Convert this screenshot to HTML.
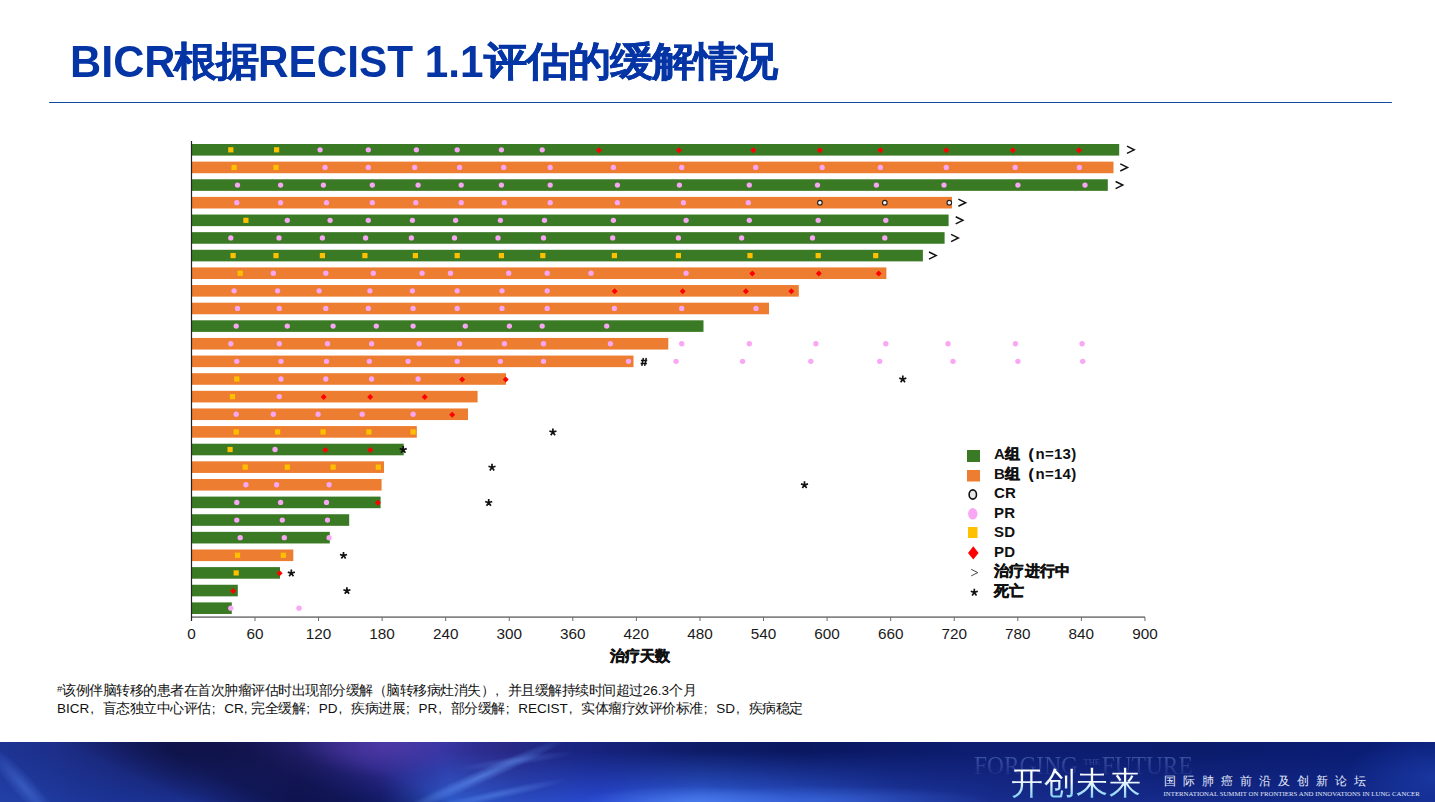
<!DOCTYPE html>
<html><head><meta charset="utf-8">
<style>
html,body{margin:0;padding:0;}
body{width:1435px;height:802px;position:relative;overflow:hidden;background:#fff;font-family:"Liberation Sans",sans-serif;}
.abs{position:absolute;white-space:nowrap;}
.tl{font-size:43.6px;font-weight:bold;color:#0535A5;line-height:50px;transform-origin:0 0;}
.tc{font-size:40px;font-weight:bold;color:#0535A5;line-height:46px;transform-origin:0 0;transform:scaleX(1.08);letter-spacing:-1.1px;-webkit-text-stroke:0.45px #0535A5;}
#hr{left:48.5px;top:101.75px;width:1343px;height:1.5px;background:#0E4C9E;border-radius:1px;}
svg text{font-family:"Liberation Sans",sans-serif;}
.lg{position:absolute;left:994px;font-size:15px;font-weight:bold;color:#111;line-height:19px;letter-spacing:0.25px;}
.lt{letter-spacing:0;}
.fp{display:inline-block;width:13.5px;font-style:normal;letter-spacing:0;text-indent:1px;}
.lc{-webkit-text-stroke:0.45px #111;}
.note{left:57px;font-size:13.5px;color:#111;line-height:18px;letter-spacing:-0.5px;}
#banner{left:0;top:742px;width:1435px;height:60px;overflow:hidden;
background:
 radial-gradient(ellipse 180px 30px at 1070px 60px, rgba(90,150,255,0.55), rgba(90,150,255,0) 100%),
 radial-gradient(ellipse 260px 25px at 520px 45px, rgba(110,160,255,0.45), rgba(110,160,255,0) 100%),
 radial-gradient(ellipse 260px 60px at 420px 0px, rgba(110,60,180,0.7), rgba(110,60,180,0) 100%),
 radial-gradient(ellipse 120px 50px at 10px 60px, rgba(60,110,220,0.6), rgba(60,110,220,0) 100%),
 linear-gradient(90deg,#1C3590 0%,#182870 15%,#141A5A 25%,#1E1E6E 35%,#2A2A8A 45%,#1E3EAA 55%,#0E1E70 65%,#0A1C6A 75%,#0C1F78 90%,#0E2480 100%);}
</style></head><body>
<div class="abs tl" style="left:70px;top:36.5px;transform:scaleX(0.99)">BICR</div>
<div class="abs tc" style="left:174px;top:38px">根据</div>
<div class="abs tl" style="left:257.5px;top:36.5px;transform:scaleX(0.97)">RECIST 1.1</div>
<div class="abs tc" style="left:483.5px;top:38px;letter-spacing:-1.2px">评估的缓解情况</div>
<div id="hr" class="abs"></div>
<svg class="abs" style="left:0;top:0" width="1435" height="700" viewBox="0 0 1435 700">
<rect x="191.5" y="144.00" width="927.70" height="11.6" fill="#3B7A25"/>
<rect x="191.5" y="161.63" width="922.00" height="11.6" fill="#ED7D31"/>
<rect x="191.5" y="179.26" width="916.30" height="11.6" fill="#3B7A25"/>
<rect x="191.5" y="196.89" width="760.50" height="11.6" fill="#ED7D31"/>
<rect x="191.5" y="214.52" width="757.10" height="11.6" fill="#3B7A25"/>
<rect x="191.5" y="232.15" width="753.10" height="11.6" fill="#3B7A25"/>
<rect x="191.5" y="249.78" width="731.40" height="11.6" fill="#3B7A25"/>
<rect x="191.5" y="267.41" width="694.90" height="11.6" fill="#ED7D31"/>
<rect x="191.5" y="285.04" width="607.30" height="11.6" fill="#ED7D31"/>
<rect x="191.5" y="302.67" width="577.50" height="11.6" fill="#ED7D31"/>
<rect x="191.5" y="320.30" width="512.00" height="11.6" fill="#3B7A25"/>
<rect x="191.5" y="337.93" width="476.80" height="11.6" fill="#ED7D31"/>
<rect x="191.5" y="355.56" width="442.00" height="11.6" fill="#ED7D31"/>
<rect x="191.5" y="373.19" width="314.50" height="11.6" fill="#ED7D31"/>
<rect x="191.5" y="390.82" width="286.10" height="11.6" fill="#ED7D31"/>
<rect x="191.5" y="408.45" width="276.50" height="11.6" fill="#ED7D31"/>
<rect x="191.5" y="426.08" width="225.30" height="11.6" fill="#ED7D31"/>
<rect x="191.5" y="443.71" width="212.20" height="11.6" fill="#3B7A25"/>
<rect x="191.5" y="461.34" width="192.50" height="11.6" fill="#ED7D31"/>
<rect x="191.5" y="478.97" width="190.10" height="11.6" fill="#ED7D31"/>
<rect x="191.5" y="496.60" width="189.10" height="11.6" fill="#3B7A25"/>
<rect x="191.5" y="514.23" width="157.70" height="11.6" fill="#3B7A25"/>
<rect x="191.5" y="531.86" width="138.30" height="11.6" fill="#3B7A25"/>
<rect x="191.5" y="549.49" width="101.80" height="11.6" fill="#ED7D31"/>
<rect x="191.5" y="567.12" width="88.50" height="11.6" fill="#3B7A25"/>
<rect x="191.5" y="584.75" width="46.30" height="11.6" fill="#3B7A25"/>
<rect x="191.5" y="602.38" width="40.30" height="11.6" fill="#3B7A25"/>
<rect x="228.20" y="147.20" width="5.2" height="5.2" fill="#FFC000"/>
<rect x="274.00" y="147.20" width="5.2" height="5.2" fill="#FFC000"/>
<circle cx="320.1" cy="149.80" r="2.65" fill="#F9A6F4"/>
<circle cx="368.3" cy="149.80" r="2.65" fill="#F9A6F4"/>
<circle cx="416.4" cy="149.80" r="2.65" fill="#F9A6F4"/>
<circle cx="457.2" cy="149.80" r="2.65" fill="#F9A6F4"/>
<circle cx="501.4" cy="149.80" r="2.65" fill="#F9A6F4"/>
<circle cx="542.2" cy="149.80" r="2.65" fill="#F9A6F4"/>
<path d="M599.00 147.20L602.00 150.20L599.00 153.20L596.00 150.20Z" fill="#FF0000"/>
<path d="M679.00 147.20L682.00 150.20L679.00 153.20L676.00 150.20Z" fill="#FF0000"/>
<path d="M753.30 147.20L756.30 150.20L753.30 153.20L750.30 150.20Z" fill="#FF0000"/>
<path d="M819.80 147.20L822.80 150.20L819.80 153.20L816.80 150.20Z" fill="#FF0000"/>
<path d="M880.40 147.20L883.40 150.20L880.40 153.20L877.40 150.20Z" fill="#FF0000"/>
<path d="M946.30 147.20L949.30 150.20L946.30 153.20L943.30 150.20Z" fill="#FF0000"/>
<path d="M1012.80 147.20L1015.80 150.20L1012.80 153.20L1009.80 150.20Z" fill="#FF0000"/>
<path d="M1079.00 147.20L1082.00 150.20L1079.00 153.20L1076.00 150.20Z" fill="#FF0000"/>
<path d="M1127.00 146.20L1134.20 149.80L1127.00 153.40" fill="none" stroke="#111" stroke-width="1.5"/>
<rect x="231.50" y="164.83" width="5.2" height="5.2" fill="#FFC000"/>
<rect x="273.40" y="164.83" width="5.2" height="5.2" fill="#FFC000"/>
<circle cx="325.1" cy="167.43" r="2.65" fill="#F9A6F4"/>
<circle cx="368.3" cy="167.43" r="2.65" fill="#F9A6F4"/>
<circle cx="414.7" cy="167.43" r="2.65" fill="#F9A6F4"/>
<circle cx="459.6" cy="167.43" r="2.65" fill="#F9A6F4"/>
<circle cx="503.7" cy="167.43" r="2.65" fill="#F9A6F4"/>
<circle cx="550.2" cy="167.43" r="2.65" fill="#F9A6F4"/>
<circle cx="613.4" cy="167.43" r="2.65" fill="#F9A6F4"/>
<circle cx="681.7" cy="167.43" r="2.65" fill="#F9A6F4"/>
<circle cx="755.7" cy="167.43" r="2.65" fill="#F9A6F4"/>
<circle cx="822.2" cy="167.43" r="2.65" fill="#F9A6F4"/>
<circle cx="880.4" cy="167.43" r="2.65" fill="#F9A6F4"/>
<circle cx="946.3" cy="167.43" r="2.65" fill="#F9A6F4"/>
<circle cx="1015.2" cy="167.43" r="2.65" fill="#F9A6F4"/>
<circle cx="1079.4" cy="167.43" r="2.65" fill="#F9A6F4"/>
<path d="M1120.30 163.83L1127.50 167.43L1120.30 171.03" fill="none" stroke="#111" stroke-width="1.5"/>
<circle cx="237.5" cy="185.06" r="2.65" fill="#F9A6F4"/>
<circle cx="280.6" cy="185.06" r="2.65" fill="#F9A6F4"/>
<circle cx="323.4" cy="185.06" r="2.65" fill="#F9A6F4"/>
<circle cx="372.3" cy="185.06" r="2.65" fill="#F9A6F4"/>
<circle cx="418.1" cy="185.06" r="2.65" fill="#F9A6F4"/>
<circle cx="461.2" cy="185.06" r="2.65" fill="#F9A6F4"/>
<circle cx="501.4" cy="185.06" r="2.65" fill="#F9A6F4"/>
<circle cx="550.2" cy="185.06" r="2.65" fill="#F9A6F4"/>
<circle cx="617.4" cy="185.06" r="2.65" fill="#F9A6F4"/>
<circle cx="679.4" cy="185.06" r="2.65" fill="#F9A6F4"/>
<circle cx="749.3" cy="185.06" r="2.65" fill="#F9A6F4"/>
<circle cx="817.5" cy="185.06" r="2.65" fill="#F9A6F4"/>
<circle cx="876.4" cy="185.06" r="2.65" fill="#F9A6F4"/>
<circle cx="944" cy="185.06" r="2.65" fill="#F9A6F4"/>
<circle cx="1017.9" cy="185.06" r="2.65" fill="#F9A6F4"/>
<circle cx="1085" cy="185.06" r="2.65" fill="#F9A6F4"/>
<path d="M1115.60 181.46L1122.80 185.06L1115.60 188.66" fill="none" stroke="#111" stroke-width="1.5"/>
<circle cx="236.8" cy="202.69" r="2.65" fill="#F9A6F4"/>
<circle cx="280.6" cy="202.69" r="2.65" fill="#F9A6F4"/>
<circle cx="326.5" cy="202.69" r="2.65" fill="#F9A6F4"/>
<circle cx="372.3" cy="202.69" r="2.65" fill="#F9A6F4"/>
<circle cx="415.8" cy="202.69" r="2.65" fill="#F9A6F4"/>
<circle cx="461.2" cy="202.69" r="2.65" fill="#F9A6F4"/>
<circle cx="504.4" cy="202.69" r="2.65" fill="#F9A6F4"/>
<circle cx="550.2" cy="202.69" r="2.65" fill="#F9A6F4"/>
<circle cx="617.4" cy="202.69" r="2.65" fill="#F9A6F4"/>
<circle cx="683.4" cy="202.69" r="2.65" fill="#F9A6F4"/>
<circle cx="748.3" cy="202.69" r="2.65" fill="#F9A6F4"/>
<circle cx="819.9" cy="202.69" r="2.3" fill="#f4f4f4" stroke="#222" stroke-width="1.1"/>
<circle cx="884.8" cy="202.69" r="2.3" fill="#f4f4f4" stroke="#222" stroke-width="1.1"/>
<circle cx="949.3" cy="202.69" r="2.3" fill="#f4f4f4" stroke="#222" stroke-width="1.1"/>
<path d="M958.40 199.09L965.60 202.69L958.40 206.29" fill="none" stroke="#111" stroke-width="1.5"/>
<rect x="243.30" y="217.72" width="5.2" height="5.2" fill="#FFC000"/>
<circle cx="287.3" cy="220.32" r="2.65" fill="#F9A6F4"/>
<circle cx="330.1" cy="220.32" r="2.65" fill="#F9A6F4"/>
<circle cx="368.3" cy="220.32" r="2.65" fill="#F9A6F4"/>
<circle cx="412.4" cy="220.32" r="2.65" fill="#F9A6F4"/>
<circle cx="455.6" cy="220.32" r="2.65" fill="#F9A6F4"/>
<circle cx="500.4" cy="220.32" r="2.65" fill="#F9A6F4"/>
<circle cx="544.5" cy="220.32" r="2.65" fill="#F9A6F4"/>
<circle cx="613.4" cy="220.32" r="2.65" fill="#F9A6F4"/>
<circle cx="686.1" cy="220.32" r="2.65" fill="#F9A6F4"/>
<circle cx="749.3" cy="220.32" r="2.65" fill="#F9A6F4"/>
<circle cx="818.2" cy="220.32" r="2.65" fill="#F9A6F4"/>
<circle cx="885.8" cy="220.32" r="2.65" fill="#F9A6F4"/>
<path d="M955.70 216.72L962.90 220.32L955.70 223.92" fill="none" stroke="#111" stroke-width="1.5"/>
<circle cx="230.8" cy="237.95" r="2.65" fill="#F9A6F4"/>
<circle cx="279" cy="237.95" r="2.65" fill="#F9A6F4"/>
<circle cx="322.4" cy="237.95" r="2.65" fill="#F9A6F4"/>
<circle cx="365.6" cy="237.95" r="2.65" fill="#F9A6F4"/>
<circle cx="411.4" cy="237.95" r="2.65" fill="#F9A6F4"/>
<circle cx="454.5" cy="237.95" r="2.65" fill="#F9A6F4"/>
<circle cx="498" cy="237.95" r="2.65" fill="#F9A6F4"/>
<circle cx="543.5" cy="237.95" r="2.65" fill="#F9A6F4"/>
<circle cx="612.7" cy="237.95" r="2.65" fill="#F9A6F4"/>
<circle cx="678.4" cy="237.95" r="2.65" fill="#F9A6F4"/>
<circle cx="741.6" cy="237.95" r="2.65" fill="#F9A6F4"/>
<circle cx="812.5" cy="237.95" r="2.65" fill="#F9A6F4"/>
<circle cx="884.8" cy="237.95" r="2.65" fill="#F9A6F4"/>
<path d="M951.10 234.35L958.30 237.95L951.10 241.55" fill="none" stroke="#111" stroke-width="1.5"/>
<rect x="230.50" y="252.98" width="5.2" height="5.2" fill="#FFC000"/>
<rect x="273.40" y="252.98" width="5.2" height="5.2" fill="#FFC000"/>
<rect x="319.80" y="252.98" width="5.2" height="5.2" fill="#FFC000"/>
<rect x="362.30" y="252.98" width="5.2" height="5.2" fill="#FFC000"/>
<rect x="412.80" y="252.98" width="5.2" height="5.2" fill="#FFC000"/>
<rect x="454.60" y="252.98" width="5.2" height="5.2" fill="#FFC000"/>
<rect x="498.80" y="252.98" width="5.2" height="5.2" fill="#FFC000"/>
<rect x="540.20" y="252.98" width="5.2" height="5.2" fill="#FFC000"/>
<rect x="611.80" y="252.98" width="5.2" height="5.2" fill="#FFC000"/>
<rect x="675.80" y="252.98" width="5.2" height="5.2" fill="#FFC000"/>
<rect x="747.40" y="252.98" width="5.2" height="5.2" fill="#FFC000"/>
<rect x="815.60" y="252.98" width="5.2" height="5.2" fill="#FFC000"/>
<rect x="873.10" y="252.98" width="5.2" height="5.2" fill="#FFC000"/>
<path d="M929.00 251.98L936.20 255.58L929.00 259.18" fill="none" stroke="#111" stroke-width="1.5"/>
<rect x="237.60" y="270.61" width="5.2" height="5.2" fill="#FFC000"/>
<circle cx="273.3" cy="273.21" r="2.65" fill="#F9A6F4"/>
<circle cx="325.8" cy="273.21" r="2.65" fill="#F9A6F4"/>
<circle cx="373.3" cy="273.21" r="2.65" fill="#F9A6F4"/>
<circle cx="422.1" cy="273.21" r="2.65" fill="#F9A6F4"/>
<circle cx="450.5" cy="273.21" r="2.65" fill="#F9A6F4"/>
<circle cx="508.7" cy="273.21" r="2.65" fill="#F9A6F4"/>
<circle cx="547.2" cy="273.21" r="2.65" fill="#F9A6F4"/>
<circle cx="591" cy="273.21" r="2.65" fill="#F9A6F4"/>
<circle cx="686.1" cy="273.21" r="2.65" fill="#F9A6F4"/>
<path d="M752.30 270.61L755.30 273.61L752.30 276.61L749.30 273.61Z" fill="#FF0000"/>
<path d="M818.80 270.61L821.80 273.61L818.80 276.61L815.80 273.61Z" fill="#FF0000"/>
<path d="M878.70 270.61L881.70 273.61L878.70 276.61L875.70 273.61Z" fill="#FF0000"/>
<circle cx="234.1" cy="290.84" r="2.65" fill="#F9A6F4"/>
<circle cx="277.6" cy="290.84" r="2.65" fill="#F9A6F4"/>
<circle cx="319.1" cy="290.84" r="2.65" fill="#F9A6F4"/>
<circle cx="369.9" cy="290.84" r="2.65" fill="#F9A6F4"/>
<circle cx="412.4" cy="290.84" r="2.65" fill="#F9A6F4"/>
<circle cx="457.2" cy="290.84" r="2.65" fill="#F9A6F4"/>
<circle cx="502" cy="290.84" r="2.65" fill="#F9A6F4"/>
<circle cx="547.2" cy="290.84" r="2.65" fill="#F9A6F4"/>
<path d="M614.70 288.24L617.70 291.24L614.70 294.24L611.70 291.24Z" fill="#FF0000"/>
<path d="M682.70 288.24L685.70 291.24L682.70 294.24L679.70 291.24Z" fill="#FF0000"/>
<path d="M745.90 288.24L748.90 291.24L745.90 294.24L742.90 291.24Z" fill="#FF0000"/>
<path d="M791.40 288.24L794.40 291.24L791.40 294.24L788.40 291.24Z" fill="#FF0000"/>
<circle cx="237.5" cy="308.47" r="2.65" fill="#F9A6F4"/>
<circle cx="279.3" cy="308.47" r="2.65" fill="#F9A6F4"/>
<circle cx="325.8" cy="308.47" r="2.65" fill="#F9A6F4"/>
<circle cx="368.3" cy="308.47" r="2.65" fill="#F9A6F4"/>
<circle cx="413.1" cy="308.47" r="2.65" fill="#F9A6F4"/>
<circle cx="457.2" cy="308.47" r="2.65" fill="#F9A6F4"/>
<circle cx="502" cy="308.47" r="2.65" fill="#F9A6F4"/>
<circle cx="547.2" cy="308.47" r="2.65" fill="#F9A6F4"/>
<circle cx="614.4" cy="308.47" r="2.65" fill="#F9A6F4"/>
<circle cx="681.7" cy="308.47" r="2.65" fill="#F9A6F4"/>
<circle cx="756" cy="308.47" r="2.65" fill="#F9A6F4"/>
<circle cx="236.2" cy="326.10" r="2.65" fill="#F9A6F4"/>
<circle cx="287.3" cy="326.10" r="2.65" fill="#F9A6F4"/>
<circle cx="333.1" cy="326.10" r="2.65" fill="#F9A6F4"/>
<circle cx="376.3" cy="326.10" r="2.65" fill="#F9A6F4"/>
<circle cx="413.1" cy="326.10" r="2.65" fill="#F9A6F4"/>
<circle cx="465.3" cy="326.10" r="2.65" fill="#F9A6F4"/>
<circle cx="509.4" cy="326.10" r="2.65" fill="#F9A6F4"/>
<circle cx="542.2" cy="326.10" r="2.65" fill="#F9A6F4"/>
<circle cx="606.7" cy="326.10" r="2.65" fill="#F9A6F4"/>
<circle cx="230.8" cy="343.73" r="2.65" fill="#F9A6F4"/>
<circle cx="279.3" cy="343.73" r="2.65" fill="#F9A6F4"/>
<circle cx="327.5" cy="343.73" r="2.65" fill="#F9A6F4"/>
<circle cx="371.6" cy="343.73" r="2.65" fill="#F9A6F4"/>
<circle cx="419.1" cy="343.73" r="2.65" fill="#F9A6F4"/>
<circle cx="459.6" cy="343.73" r="2.65" fill="#F9A6F4"/>
<circle cx="504.4" cy="343.73" r="2.65" fill="#F9A6F4"/>
<circle cx="543.5" cy="343.73" r="2.65" fill="#F9A6F4"/>
<circle cx="610.4" cy="343.73" r="2.65" fill="#F9A6F4"/>
<circle cx="681.7" cy="343.73" r="2.65" fill="#F9A6F4"/>
<circle cx="749.3" cy="343.73" r="2.65" fill="#F9A6F4"/>
<circle cx="815.9" cy="343.73" r="2.65" fill="#F9A6F4"/>
<circle cx="885.8" cy="343.73" r="2.65" fill="#F9A6F4"/>
<circle cx="948" cy="343.73" r="2.65" fill="#F9A6F4"/>
<circle cx="1015.5" cy="343.73" r="2.65" fill="#F9A6F4"/>
<circle cx="1082.1" cy="343.73" r="2.65" fill="#F9A6F4"/>
<circle cx="236.8" cy="361.36" r="2.65" fill="#F9A6F4"/>
<circle cx="281" cy="361.36" r="2.65" fill="#F9A6F4"/>
<circle cx="326.5" cy="361.36" r="2.65" fill="#F9A6F4"/>
<circle cx="369.3" cy="361.36" r="2.65" fill="#F9A6F4"/>
<circle cx="408.1" cy="361.36" r="2.65" fill="#F9A6F4"/>
<circle cx="457.2" cy="361.36" r="2.65" fill="#F9A6F4"/>
<circle cx="500.4" cy="361.36" r="2.65" fill="#F9A6F4"/>
<circle cx="543.5" cy="361.36" r="2.65" fill="#F9A6F4"/>
<circle cx="628.5" cy="361.36" r="2.65" fill="#F9A6F4"/>
<circle cx="676.1" cy="361.36" r="2.65" fill="#F9A6F4"/>
<circle cx="742.6" cy="361.36" r="2.65" fill="#F9A6F4"/>
<circle cx="810.8" cy="361.36" r="2.65" fill="#F9A6F4"/>
<circle cx="879.7" cy="361.36" r="2.65" fill="#F9A6F4"/>
<circle cx="953" cy="361.36" r="2.65" fill="#F9A6F4"/>
<circle cx="1017.9" cy="361.36" r="2.65" fill="#F9A6F4"/>
<circle cx="1082.7" cy="361.36" r="2.65" fill="#F9A6F4"/>
<path d="M643.4 358L641.8 365.8M646.3 358L644.7 365.8M640.9 360.5L647.2 360.5M640.6 363.4L646.9 363.4" stroke="#111" stroke-width="1.5" fill="none"/>
<rect x="234.20" y="376.39" width="5.2" height="5.2" fill="#FFC000"/>
<circle cx="281" cy="378.99" r="2.65" fill="#F9A6F4"/>
<circle cx="325.8" cy="378.99" r="2.65" fill="#F9A6F4"/>
<circle cx="371.6" cy="378.99" r="2.65" fill="#F9A6F4"/>
<circle cx="418.1" cy="378.99" r="2.65" fill="#F9A6F4"/>
<path d="M462.20 376.39L465.20 379.39L462.20 382.39L459.20 379.39Z" fill="#FF0000"/>
<path d="M505.70 376.39L508.70 379.39L505.70 382.39L502.70 379.39Z" fill="#FF0000"/>
<path d="M902.80 379.29L902.80 375.59M902.80 379.29L906.32 378.15M902.80 379.29L904.97 382.28M902.80 379.29L900.63 382.28M902.80 379.29L899.28 378.15" stroke="#111" stroke-width="1.7" stroke-linecap="butt"/>
<rect x="229.90" y="394.02" width="5.2" height="5.2" fill="#FFC000"/>
<circle cx="279.3" cy="396.62" r="2.65" fill="#F9A6F4"/>
<path d="M323.70 394.02L326.70 397.02L323.70 400.02L320.70 397.02Z" fill="#FF0000"/>
<path d="M370.20 394.02L373.20 397.02L370.20 400.02L367.20 397.02Z" fill="#FF0000"/>
<path d="M424.70 394.02L427.70 397.02L424.70 400.02L421.70 397.02Z" fill="#FF0000"/>
<circle cx="236.2" cy="414.25" r="2.65" fill="#F9A6F4"/>
<circle cx="273.3" cy="414.25" r="2.65" fill="#F9A6F4"/>
<circle cx="318.1" cy="414.25" r="2.65" fill="#F9A6F4"/>
<circle cx="362.2" cy="414.25" r="2.65" fill="#F9A6F4"/>
<circle cx="413.1" cy="414.25" r="2.65" fill="#F9A6F4"/>
<path d="M452.20 411.65L455.20 414.65L452.20 417.65L449.20 414.65Z" fill="#FF0000"/>
<rect x="233.60" y="429.28" width="5.2" height="5.2" fill="#FFC000"/>
<rect x="275.00" y="429.28" width="5.2" height="5.2" fill="#FFC000"/>
<rect x="320.50" y="429.28" width="5.2" height="5.2" fill="#FFC000"/>
<rect x="366.30" y="429.28" width="5.2" height="5.2" fill="#FFC000"/>
<rect x="410.50" y="429.28" width="5.2" height="5.2" fill="#FFC000"/>
<path d="M552.90 432.18L552.90 428.48M552.90 432.18L556.42 431.04M552.90 432.18L555.07 435.17M552.90 432.18L550.73 435.17M552.90 432.18L549.38 431.04" stroke="#111" stroke-width="1.7" stroke-linecap="butt"/>
<rect x="227.50" y="446.91" width="5.2" height="5.2" fill="#FFC000"/>
<circle cx="275" cy="449.51" r="2.65" fill="#F9A6F4"/>
<path d="M325.40 446.91L328.40 449.91L325.40 452.91L322.40 449.91Z" fill="#FF0000"/>
<path d="M370.20 446.91L373.20 449.91L370.20 452.91L367.20 449.91Z" fill="#FF0000"/>
<path d="M403.20 449.81L403.20 446.11M403.20 449.81L406.72 448.67M403.20 449.81L405.37 452.80M403.20 449.81L401.03 452.80M403.20 449.81L399.68 448.67" stroke="#111" stroke-width="1.7" stroke-linecap="butt"/>
<rect x="242.60" y="464.54" width="5.2" height="5.2" fill="#FFC000"/>
<rect x="284.70" y="464.54" width="5.2" height="5.2" fill="#FFC000"/>
<rect x="330.50" y="464.54" width="5.2" height="5.2" fill="#FFC000"/>
<rect x="375.70" y="464.54" width="5.2" height="5.2" fill="#FFC000"/>
<path d="M492.00 467.44L492.00 463.74M492.00 467.44L495.52 466.30M492.00 467.44L494.17 470.43M492.00 467.44L489.83 470.43M492.00 467.44L488.48 466.30" stroke="#111" stroke-width="1.7" stroke-linecap="butt"/>
<circle cx="245.9" cy="484.77" r="2.65" fill="#F9A6F4"/>
<circle cx="276.6" cy="484.77" r="2.65" fill="#F9A6F4"/>
<circle cx="329.1" cy="484.77" r="2.65" fill="#F9A6F4"/>
<path d="M804.50 485.07L804.50 481.37M804.50 485.07L808.02 483.93M804.50 485.07L806.67 488.06M804.50 485.07L802.33 488.06M804.50 485.07L800.98 483.93" stroke="#111" stroke-width="1.7" stroke-linecap="butt"/>
<circle cx="236.8" cy="502.40" r="2.65" fill="#F9A6F4"/>
<circle cx="280.6" cy="502.40" r="2.65" fill="#F9A6F4"/>
<circle cx="326.5" cy="502.40" r="2.65" fill="#F9A6F4"/>
<path d="M377.90 499.80L380.90 502.80L377.90 505.80L374.90 502.80Z" fill="#FF0000"/>
<path d="M488.70 502.70L488.70 499.00M488.70 502.70L492.22 501.56M488.70 502.70L490.87 505.69M488.70 502.70L486.53 505.69M488.70 502.70L485.18 501.56" stroke="#111" stroke-width="1.7" stroke-linecap="butt"/>
<circle cx="236.8" cy="520.03" r="2.65" fill="#F9A6F4"/>
<circle cx="282.3" cy="520.03" r="2.65" fill="#F9A6F4"/>
<circle cx="327.5" cy="520.03" r="2.65" fill="#F9A6F4"/>
<circle cx="240.2" cy="537.66" r="2.65" fill="#F9A6F4"/>
<circle cx="284.3" cy="537.66" r="2.65" fill="#F9A6F4"/>
<circle cx="329.1" cy="537.66" r="2.65" fill="#F9A6F4"/>
<rect x="234.90" y="552.69" width="5.2" height="5.2" fill="#FFC000"/>
<rect x="280.70" y="552.69" width="5.2" height="5.2" fill="#FFC000"/>
<path d="M343.50 555.59L343.50 551.89M343.50 555.59L347.02 554.45M343.50 555.59L345.67 558.58M343.50 555.59L341.33 558.58M343.50 555.59L339.98 554.45" stroke="#111" stroke-width="1.7" stroke-linecap="butt"/>
<rect x="233.60" y="570.32" width="5.2" height="5.2" fill="#FFC000"/>
<path d="M279.60 570.32L282.60 573.32L279.60 576.32L276.60 573.32Z" fill="#FF0000"/>
<path d="M291.30 573.22L291.30 569.52M291.30 573.22L294.82 572.08M291.30 573.22L293.47 576.21M291.30 573.22L289.13 576.21M291.30 573.22L287.78 572.08" stroke="#111" stroke-width="1.7" stroke-linecap="butt"/>
<path d="M233.10 587.95L236.10 590.95L233.10 593.95L230.10 590.95Z" fill="#FF0000"/>
<path d="M346.90 590.85L346.90 587.15M346.90 590.85L350.42 589.71M346.90 590.85L349.07 593.84M346.90 590.85L344.73 593.84M346.90 590.85L343.38 589.71" stroke="#111" stroke-width="1.7" stroke-linecap="butt"/>
<circle cx="230.8" cy="608.18" r="2.65" fill="#F9A6F4"/>
<circle cx="299" cy="608.18" r="2.65" fill="#F9A6F4"/>
<line x1="191" y1="617.1" x2="1145" y2="617.1" stroke="#858585" stroke-width="1.8"/>
<text x="191.40" y="639.2" font-size="15.3" text-anchor="middle" fill="#1a1a1a">0</text>
<line x1="254.97" y1="617" x2="254.97" y2="621" stroke="#6a6a6a" stroke-width="1"/>
<text x="254.97" y="639.2" font-size="15.3" text-anchor="middle" fill="#1a1a1a">60</text>
<line x1="318.54" y1="617" x2="318.54" y2="621" stroke="#6a6a6a" stroke-width="1"/>
<text x="318.54" y="639.2" font-size="15.3" text-anchor="middle" fill="#1a1a1a">120</text>
<line x1="382.11" y1="617" x2="382.11" y2="621" stroke="#6a6a6a" stroke-width="1"/>
<text x="382.11" y="639.2" font-size="15.3" text-anchor="middle" fill="#1a1a1a">180</text>
<line x1="445.68" y1="617" x2="445.68" y2="621" stroke="#6a6a6a" stroke-width="1"/>
<text x="445.68" y="639.2" font-size="15.3" text-anchor="middle" fill="#1a1a1a">240</text>
<line x1="509.25" y1="617" x2="509.25" y2="621" stroke="#6a6a6a" stroke-width="1"/>
<text x="509.25" y="639.2" font-size="15.3" text-anchor="middle" fill="#1a1a1a">300</text>
<line x1="572.82" y1="617" x2="572.82" y2="621" stroke="#6a6a6a" stroke-width="1"/>
<text x="572.82" y="639.2" font-size="15.3" text-anchor="middle" fill="#1a1a1a">360</text>
<line x1="636.39" y1="617" x2="636.39" y2="621" stroke="#6a6a6a" stroke-width="1"/>
<text x="636.39" y="639.2" font-size="15.3" text-anchor="middle" fill="#1a1a1a">420</text>
<line x1="699.96" y1="617" x2="699.96" y2="621" stroke="#6a6a6a" stroke-width="1"/>
<text x="699.96" y="639.2" font-size="15.3" text-anchor="middle" fill="#1a1a1a">480</text>
<line x1="763.53" y1="617" x2="763.53" y2="621" stroke="#6a6a6a" stroke-width="1"/>
<text x="763.53" y="639.2" font-size="15.3" text-anchor="middle" fill="#1a1a1a">540</text>
<line x1="827.10" y1="617" x2="827.10" y2="621" stroke="#6a6a6a" stroke-width="1"/>
<text x="827.10" y="639.2" font-size="15.3" text-anchor="middle" fill="#1a1a1a">600</text>
<line x1="890.67" y1="617" x2="890.67" y2="621" stroke="#6a6a6a" stroke-width="1"/>
<text x="890.67" y="639.2" font-size="15.3" text-anchor="middle" fill="#1a1a1a">660</text>
<line x1="954.24" y1="617" x2="954.24" y2="621" stroke="#6a6a6a" stroke-width="1"/>
<text x="954.24" y="639.2" font-size="15.3" text-anchor="middle" fill="#1a1a1a">720</text>
<line x1="1017.81" y1="617" x2="1017.81" y2="621" stroke="#6a6a6a" stroke-width="1"/>
<text x="1017.81" y="639.2" font-size="15.3" text-anchor="middle" fill="#1a1a1a">780</text>
<line x1="1081.38" y1="617" x2="1081.38" y2="621" stroke="#6a6a6a" stroke-width="1"/>
<text x="1081.38" y="639.2" font-size="15.3" text-anchor="middle" fill="#1a1a1a">840</text>
<line x1="1144.95" y1="617" x2="1144.95" y2="621" stroke="#6a6a6a" stroke-width="1"/>
<text x="1144.95" y="639.2" font-size="15.3" text-anchor="middle" fill="#1a1a1a">900</text>
<line x1="191.5" y1="141" x2="191.5" y2="621" stroke="#222" stroke-width="1.2"/>
<rect x="967" y="450" width="13" height="12" fill="#3B7A25"/>
<rect x="967" y="470" width="13" height="11.5" fill="#ED7D31"/>
<ellipse cx="972.8" cy="494.5" rx="3.7" ry="4.6" fill="#e8e8e8" stroke="#111" stroke-width="1.6"/>
<ellipse cx="972.8" cy="513.8" rx="4.7" ry="5.8" fill="#F9A6F4"/>
<rect x="968" y="527" width="9.5" height="11" fill="#FFC000"/>
<path d="M973.3 546.2L978.6 552.9L973.3 559.6L968 552.9Z" fill="#FF0000"/>
<path d="M971.2 569.3L977.8 572.6L971.2 575.9" fill="none" stroke="#333" stroke-width="0.9"/>
<path d="M974.30 592.40L974.30 588.70M974.30 592.40L977.82 591.26M974.30 592.40L976.47 595.39M974.30 592.40L972.13 595.39M974.30 592.40L970.78 591.26" stroke="#111" stroke-width="1.7" stroke-linecap="butt"/>
</svg>
<div class="lg" style="top:444px">A<span class="lc">组（</span>n=13)</div>
<div class="lg" style="top:464px">B<span class="lc">组（</span>n=14)</div>
<div class="lg" style="top:483px">CR</div>
<div class="lg" style="top:503px">PR</div>
<div class="lg" style="top:522px">SD</div>
<div class="lg" style="top:542px">PD</div>
<div class="lg lc" style="top:561px">治疗进行中</div>
<div class="lg lc" style="top:581px">死亡</div>
<div class="abs" style="left:609.5px;top:647px;font-size:15px;line-height:18px;font-weight:bold;color:#111;-webkit-text-stroke:0.5px #111">治疗天数</div>
<div class="abs note" style="top:680.4px"><span style="font-size:9.5px;vertical-align:3px;letter-spacing:0">#</span>该例伴脑转移的患者在首次肿瘤评估时出现部分缓解（脑转移病灶消失）<i class="fp">,</i>并且缓解持续时间超过<span class="lt">26.3</span>个月</div>
<div class="abs note" style="top:700px"><span class="lt">BICR</span><i class="fp">,</i>盲态独立中心评估<i class="fp">;</i><span class="lt">CR, </span>完全缓解<i class="fp">;</i><span class="lt">PD</span><i class="fp">,</i>疾病进展<i class="fp">;</i><span class="lt">PR</span><i class="fp">,</i>部分缓解<i class="fp">;</i><span class="lt">RECIST</span><i class="fp">,</i>实体瘤疗效评价标准<i class="fp">;</i><span class="lt">SD</span><i class="fp">,</i>疾病稳定</div>
<div id="banner" class="abs">
<svg class="abs" style="left:0;top:0" width="1435" height="60" viewBox="0 0 1435 60">
<defs>
<linearGradient id="gt" x1="0" y1="0" x2="1435" y2="0" gradientUnits="userSpaceOnUse">
<stop offset="0.0000" stop-color="#1E3494"/><stop offset="0.0418" stop-color="#1C2E88"/><stop offset="0.0767" stop-color="#1A2678"/>
<stop offset="0.1254" stop-color="#141958"/><stop offset="0.1742" stop-color="#1A1A5E"/><stop offset="0.2230" stop-color="#2A2478"/>
<stop offset="0.2648" stop-color="#3C2E94"/><stop offset="0.3066" stop-color="#3234A0"/><stop offset="0.3484" stop-color="#2A2A88"/>
<stop offset="0.4042" stop-color="#182480"/><stop offset="0.4878" stop-color="#0E1C68"/><stop offset="0.5575" stop-color="#0A1760"/>
<stop offset="0.6969" stop-color="#0D1E72"/><stop offset="0.8362" stop-color="#0B1C6C"/><stop offset="1.0000" stop-color="#0A1E78"/>
</linearGradient>
<linearGradient id="gb" x1="0" y1="0" x2="1435" y2="0" gradientUnits="userSpaceOnUse">
<stop offset="0.0000" stop-color="#2242A8"/><stop offset="0.0557" stop-color="#1C3698"/><stop offset="0.1394" stop-color="#1A2E8C"/>
<stop offset="0.2091" stop-color="#121860"/><stop offset="0.2648" stop-color="#16207A"/><stop offset="0.3136" stop-color="#2E5AC8"/>
<stop offset="0.3624" stop-color="#2A4CC0"/><stop offset="0.4181" stop-color="#2848D0"/><stop offset="0.4878" stop-color="#3262E0"/>
<stop offset="0.5575" stop-color="#2A50C8"/><stop offset="0.6272" stop-color="#1E38A0"/><stop offset="0.6969" stop-color="#182C8C"/>
<stop offset="1.0000" stop-color="#112888"/>
</linearGradient>
<linearGradient id="gv" x1="0" y1="0" x2="0" y2="1">
<stop offset="0.15" stop-color="#fff" stop-opacity="0"/><stop offset="1" stop-color="#fff" stop-opacity="1"/>
</linearGradient>
<mask id="mk"><rect width="1435" height="60" fill="url(#gv)"/></mask>
<filter id="bl" filterUnits="userSpaceOnUse" x="-100" y="-100" width="1700" height="300"><feGaussianBlur stdDeviation="12"/></filter>
<filter id="bl2" filterUnits="userSpaceOnUse" x="-100" y="-100" width="1700" height="300"><feGaussianBlur stdDeviation="4"/></filter>
<linearGradient id="gtx" x1="0" y1="0" x2="0" y2="1"><stop offset="0" stop-color="#ffffff"/><stop offset="0.45" stop-color="#EAF6FF"/><stop offset="1" stop-color="#5EC6F2"/></linearGradient>
</defs>
<rect width="1435" height="60" fill="url(#gt)"/>
<rect width="1435" height="60" fill="url(#gb)" mask="url(#mk)"/>
</svg>
<div class="abs" style="left:0;top:0;width:1435px;height:60px;background:
 radial-gradient(ellipse 90px 35px at 385px 0px, rgba(90,65,180,0.55), rgba(90,65,180,0) 100%),
 radial-gradient(ellipse 110px 16px at 690px 60px, rgba(90,140,245,0.55), rgba(90,140,245,0) 100%),
 radial-gradient(ellipse 170px 14px at 820px 58px, rgba(70,120,235,0.45), rgba(70,120,235,0) 100%),
 radial-gradient(ellipse 90px 45px at 1435px 35px, rgba(40,80,200,0.45), rgba(40,80,200,0) 100%),
 linear-gradient(24.8deg, rgba(10,14,60,0) 12%, rgba(10,14,60,0.5) 18%, rgba(10,14,60,0.5) 22%, rgba(10,14,60,0) 29%);"></div>
<div class="abs" style="left:-35px;top:35px;width:120px;height:22px;transform:rotate(48deg);background:radial-gradient(closest-side,rgba(80,120,225,0.5),rgba(80,120,225,0))"></div>
<div class="abs" style="left:385px;top:28px;width:190px;height:14px;transform:rotate(-24deg);background:radial-gradient(closest-side,rgba(100,150,245,0.6),rgba(100,150,245,0))"></div>
<div class="abs" style="left:420px;top:48px;width:150px;height:10px;transform:rotate(-12deg);background:radial-gradient(closest-side,rgba(100,150,245,0.45),rgba(100,150,245,0))"></div>
<div class="abs" style="left:455px;top:14px;width:120px;height:10px;transform:rotate(-8deg);background:radial-gradient(closest-side,rgba(100,150,245,0.3),rgba(100,150,245,0))"></div>
 <div class="abs" style="left:974px;top:4.5px;font-family:'Liberation Serif',serif;font-size:25px;line-height:30px;letter-spacing:0;transform:scaleX(0.935);transform-origin:0 0;background:linear-gradient(180deg,rgba(120,150,225,0.42) 30%,rgba(80,110,200,0.12) 85%);-webkit-background-clip:text;background-clip:text;color:transparent">FORGING<span style="font-size:9px;vertical-align:9px;margin:0 2px 0 6px">THE</span>FUTURE</div>
 <div class="abs" style="left:1011px;top:23px;font-size:32px;line-height:36px;letter-spacing:0.5px;background:linear-gradient(180deg,#ffffff 0%,#F0F8FF 45%,#6CCBF4 100%);-webkit-background-clip:text;background-clip:text;color:transparent">开创未来</div>
 <div class="abs" style="left:1164px;top:31.5px;font-size:12px;color:#E4EAFA;letter-spacing:7.0px;line-height:14px">国际肺癌前沿及创新论坛</div>
 <div class="abs" style="left:1163.5px;top:47.5px;font-family:'Liberation Serif',serif;font-size:6.75px;color:#E4EAFA;line-height:8px;letter-spacing:0.05px">INTERNATIONAL SUMMIT ON FRONTIERS AND INNOVATIONS IN LUNG CANCER</div>
</div>
</body></html>
